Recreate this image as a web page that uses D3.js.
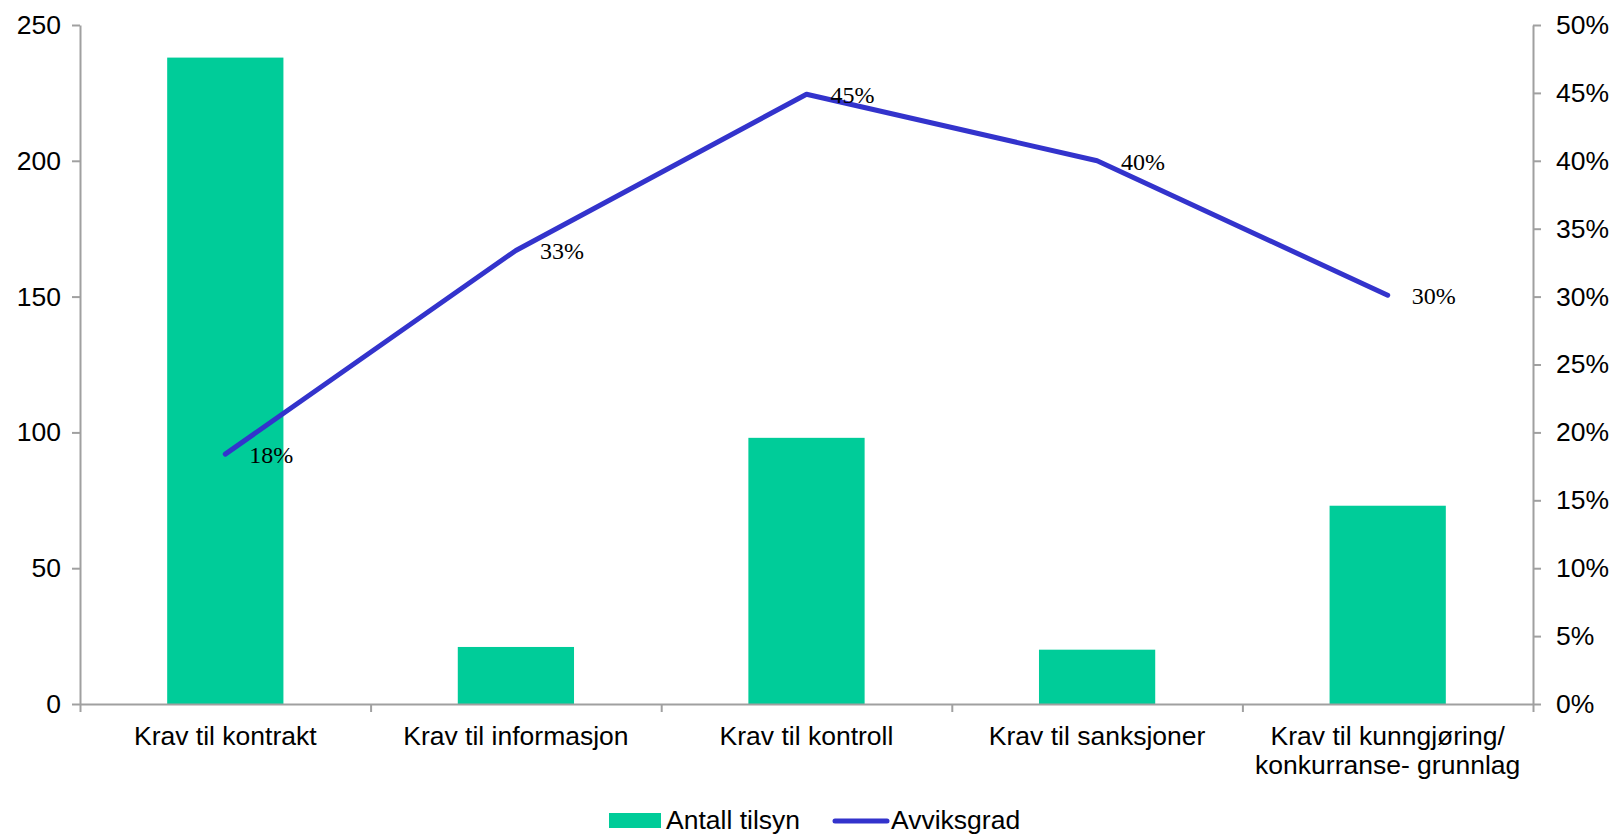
<!DOCTYPE html>
<html>
<head>
<meta charset="utf-8">
<script src="https://cdn.jsdelivr.net/npm/d3@7"></script>
<style>
  body { margin: 0; background: #fff; }
  svg { display: block; font-family: "Liberation Sans", Arial, sans-serif; }
  .axis path, .axis line { stroke: #a0a0a0; stroke-width: 2; }
  .axis text { fill: #000; font-size: 26.5px; }
</style>
</head>
<body>
<svg id="chart" width="1613" height="835"></svg>
<script>
// data
let categories = ["Krav til kontrakt", "Krav til informasjon", "Krav til kontroll",
                  "Krav til sanksjoner", "Krav til kunngjøring/|konkurranse- grunnlag"];
let antallTilsyn = [238, 21, 98, 20, 73];
let avviksgrad = [0.184, 0.334, 0.449, 0.400, 0.301];
let leftTicks = [0, 50, 100, 150, 200, 250];
let rightTicks = [0, 0.05, 0.1, 0.15, 0.2, 0.25, 0.3, 0.35, 0.4, 0.45, 0.5];

let plotLeft = 80, plotRight = 1533, plotTop = 25, plotBottom = 704;

let svg = d3.select("#chart");

// x scales - band for bars, linear for boundary ticks
let x = d3.scaleBand()
  .domain(categories)
  .range([plotLeft, plotRight])
  .paddingInner(0.6)
  .paddingOuter(0.3);

let xb = d3.scaleLinear().domain([0, categories.length]).range([plotLeft, plotRight]);

let y = d3.scaleLinear().domain([0, 250]).range([plotBottom, plotTop]);
let y2 = d3.scaleLinear().domain([0, 0.5]).range([plotBottom, plotTop]);

// bars
svg.append("g")
  .selectAll("rect")
  .data(antallTilsyn)
  .join("rect")
    .attr("x", (d, i) => x(categories[i]))
    .attr("width", x.bandwidth())
    .attr("y", d => y(d))
    .attr("height", d => y(0) - y(d))
    .attr("fill", "#00cc99");

// axes
svg.append("g")
  .attr("class", "axis")
  .attr("transform", "translate(" + plotLeft + ",0)")
  .call(d3.axisLeft(y).tickValues(leftTicks).tickSize(8).tickSizeOuter(0).tickPadding(11));

svg.append("g")
  .attr("class", "axis")
  .attr("transform", "translate(" + plotRight + ",0)")
  .call(d3.axisRight(y2).tickValues(rightTicks).tickFormat(d3.format(".0%")).tickSize(8).tickSizeOuter(0).tickPadding(15));

svg.append("g")
  .attr("class", "axis")
  .attr("transform", "translate(0," + plotBottom + ")")
  .call(d3.axisBottom(xb).tickValues(d3.range(categories.length + 1)).tickFormat("").tickSize(8).tickSizeOuter(0));

// category labels (wrapped on "|")
let catLabels = svg.append("g")
  .selectAll("text")
  .data(categories)
  .join("text")
    .attr("x", d => x(d) + x.bandwidth() / 2)
    .attr("y", 745)
    .attr("text-anchor", "middle")
    .attr("font-size", "26.5px")
    .attr("fill", "#000");

catLabels.selectAll("tspan")
  .data(d => d.split("|"))
  .join("tspan")
    .attr("x", function() { return d3.select(this.parentNode).attr("x"); })
    .attr("dy", (d, i) => i === 0 ? 0 : 29)
    .text(d => d);

// line
let line = d3.line()
  .x((d, i) => x(categories[i]) + x.bandwidth() / 2)
  .y(d => y2(d));

svg.append("path")
  .datum(avviksgrad)
  .attr("d", line)
  .attr("fill", "none")
  .attr("stroke", "#3333cc")
  .attr("stroke-width", 5)
  .attr("stroke-linecap", "round")
  .attr("stroke-linejoin", "round");

// data labels
svg.append("g")
  .selectAll("text")
  .data(avviksgrad)
  .join("text")
    .attr("x", (d, i) => x(categories[i]) + x.bandwidth() / 2 + 24)
    .attr("y", d => y2(d) + 9)
    .attr("font-family", "'Liberation Serif', 'Times New Roman', serif")
    .attr("font-size", "24px")
    .attr("fill", "#000")
    .text(d => d3.format(".0%")(d));

// legend
let legend = svg.append("g");
legend.append("rect")
  .attr("x", 609).attr("y", 813).attr("width", 52).attr("height", 15)
  .attr("fill", "#00cc99");
legend.append("text")
  .attr("x", 666).attr("y", 829)
  .attr("font-size", "26.5px")
  .text("Antall tilsyn");
legend.append("line")
  .attr("x1", 835).attr("x2", 887).attr("y1", 821).attr("y2", 821)
  .attr("stroke", "#3333cc").attr("stroke-width", 5).attr("stroke-linecap", "round");
legend.append("text")
  .attr("x", 891).attr("y", 829)
  .attr("font-size", "26.5px")
  .text("Avviksgrad");
</script>
</body>
</html>
